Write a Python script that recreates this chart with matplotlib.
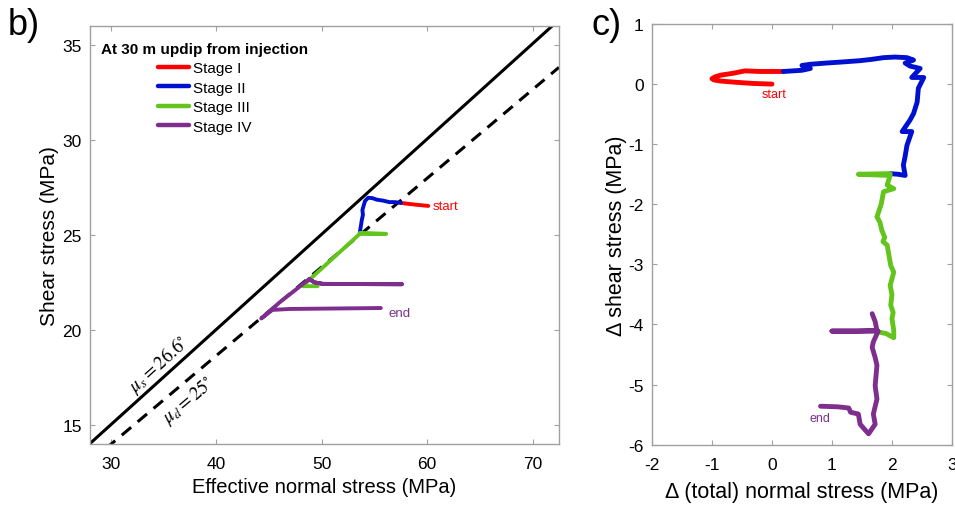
import numpy as np
import matplotlib
matplotlib.use("Agg")
import matplotlib.pyplot as plt

plt.rcParams['font.family'] = ['Liberation Sans', 'DejaVu Sans']
plt.rcParams['mathtext.fontset'] = 'stix'
plt.rcParams['axes.unicode_minus'] = False

RED = '#ff0000'
BLUE = '#0010d0'
GREEN = '#62c41c'
PURPLE = '#7e2f8e'
SPINE = '#a0a0a0'

# ---- panel b: effective normal stress vs shear stress (MPa) ----
mu_s_deg = 26.6
mu_d_deg = 25.0

red_sig = [60.1, 59.0, 58.2, 57.5]
red_tau = [26.52, 26.58, 26.63, 26.68]
blue_sig = [57.5, 56.9, 56.4, 55.8, 55.2, 54.8, 54.4, 54.1, 53.95, 53.85, 53.9, 53.8, 53.7, 53.6]
blue_tau = [26.68, 26.72, 26.72, 26.8, 26.85, 26.93, 26.95, 26.78, 26.5, 26.3, 26.05, 25.8, 25.45, 25.1]
green_sig = [53.6, 56.1, 53.6, 48.8, 48.2, 49.6]
green_tau = [25.1, 25.05, 25.05, 22.63, 22.3, 22.3]
purple_sig = [48.8, 49.3, 50.1, 57.6, 50.1, 49.3, 48.8, 46.0, 44.25, 45.3, 46.9, 55.6]
purple_tau = [22.67, 22.5, 22.42, 22.4, 22.42, 22.5, 22.67, 21.45, 20.6, 21.05, 21.1, 21.15]

# ---- panel c: change in total normal stress vs change in shear stress ----
red_dsig = [0.0, -0.3, -0.6, -0.85, -0.97, -1.0, -0.95, -0.85, -0.65, -0.45, -0.2, 0.0, 0.19]
red_dtau = [0.0, 0.01, 0.03, 0.05, 0.07, 0.09, 0.12, 0.15, 0.18, 0.22, 0.21, 0.21, 0.21]
blue_dsig = [0.19, 0.35, 0.5, 0.64, 0.5, 0.64, 0.9, 1.2, 1.47, 1.65, 1.86, 2.05, 2.25, 2.36,
             2.22, 2.3, 2.47, 2.33, 2.53, 2.44, 2.42, 2.36, 2.3, 2.17, 2.33, 2.25, 2.22,
             2.19, 2.22, 2.1, 1.97]
blue_dtau = [0.21, 0.22, 0.23, 0.26, 0.31, 0.33, 0.35, 0.37, 0.39, 0.41, 0.44, 0.45, 0.44, 0.40,
             0.35, 0.30, 0.26, 0.11, 0.11, -0.07, -0.3, -0.49, -0.6, -0.79, -0.79, -1.02, -1.2,
             -1.35, -1.52, -1.5, -1.49]
green_dsig = [1.97, 1.44, 1.97, 1.92, 2.03, 1.86, 1.82, 1.75, 1.8, 1.83, 1.88, 1.85, 1.92,
              1.95, 1.98, 2.03, 1.97, 2.0, 1.98, 2.02, 2.0, 2.03, 2.03, 1.9, 1.75]
green_dtau = [-1.49, -1.50, -1.52, -1.68, -1.74, -1.79, -2.0, -2.21, -2.3, -2.43, -2.55, -2.62,
              -2.68, -2.85, -3.02, -3.13, -3.35, -3.5, -3.68, -3.8, -3.9, -4.1, -4.22, -4.15, -4.12]
purple_dsig = [1.67, 1.72, 1.75, 1.4, 1.0, 1.4, 1.77, 1.69, 1.67, 1.72, 1.75, 1.72, 1.75,
               1.69, 1.72, 1.61, 1.47, 1.44, 1.31, 1.28, 1.1, 0.81]
purple_dtau = [-3.82, -3.95, -4.1, -4.11, -4.11, -4.11, -4.11, -4.29, -4.38, -4.55, -4.68,
               -5.02, -5.24, -5.49, -5.66, -5.82, -5.66, -5.49, -5.46, -5.39, -5.37, -5.36]

stage_labels = ['Stage I', 'Stage II', 'Stage III', 'Stage IV']

fig = plt.figure(figsize=(9.55, 5.06), dpi=100)
ax1 = fig.add_axes([0.0942, 0.1206, 0.4911, 0.8267])
ax2 = fig.add_axes([0.6827, 0.1192, 0.3141, 0.8314])


def style_axes(ax):
    for sp in ax.spines.values():
        sp.set_color(SPINE)
        sp.set_linewidth(1.0)
    ax.tick_params(direction='in', length=3.5, width=0.8, color=SPINE,
                   labelsize=12.5, labelcolor='black', top=True, right=True)
    ax.tick_params(axis='x', pad=9)
    ax.tick_params(axis='y', pad=6)


# panel b
sig_line = np.array([28, 72.5])
ax1.plot(sig_line, np.tan(np.radians(mu_s_deg)) * sig_line, color='black', lw=2.2)
ax1.plot(sig_line, np.tan(np.radians(mu_d_deg)) * sig_line, color='black', lw=2.2,
         dashes=(4, 2.8))
lw = 2.8
ax1.plot(red_sig, red_tau, color=RED, lw=lw, solid_capstyle='round', label=stage_labels[0])
ax1.plot(blue_sig, blue_tau, color=BLUE, lw=lw, solid_capstyle='round', label=stage_labels[1])
ax1.plot(green_sig, green_tau, color=GREEN, lw=lw, solid_capstyle='round', label=stage_labels[2])
ax1.plot(purple_sig, purple_tau, color=PURPLE, lw=lw, solid_capstyle='round', label=stage_labels[3])

ax1.text(red_sig[0] + 0.4, red_tau[0], 'start', color=RED, fontsize=9.5, va='center', ha='left')
ax1.text(purple_sig[-1] + 0.7, purple_tau[-1] - 0.25, 'end', color=PURPLE, fontsize=9.5,
         va='center', ha='left')
ax1.text(34.5, 18.2, r'$\mu_s = 26.6^{\circ}$', fontsize=13.5, ha='center', va='center',
         rotation=mu_s_deg, transform_rotates_text=True, rotation_mode='anchor')
ax1.text(37.3, 16.3, r'$\mu_d = 25^{\circ}$', fontsize=13.5, ha='center', va='center',
         rotation=mu_d_deg, transform_rotates_text=True, rotation_mode='anchor')

ax1.set_xlim(28, 72.5)
ax1.set_ylim(14, 36)
ax1.set_xticks([30, 40, 50, 60, 70])
ax1.set_yticks([15, 20, 25, 30, 35])
ax1.set_xlabel('Effective normal stress (MPa)', fontsize=14.5, labelpad=4)
ax1.set_ylabel('Shear stress (MPa)', fontsize=15, labelpad=2)
style_axes(ax1)

leg = ax1.legend(title='At 30 m updip from injection', loc='upper center',
                 bbox_to_anchor=(0.245, 0.98), frameon=False, fontsize=11,
                 title_fontproperties={'weight': 'bold', 'size': 11},
                 alignment='center', handlelength=2.0, handletextpad=0.25,
                 labelspacing=0.36, borderpad=0.0)
for h in leg.legend_handles:
    h.set_linewidth(3.2)

# panel c
ax2.plot(red_dsig, red_dtau, color=RED, lw=3.5, solid_capstyle='round')
ax2.plot(blue_dsig, blue_dtau, color=BLUE, lw=3.5, solid_capstyle='round')
ax2.plot(green_dsig, green_dtau, color=GREEN, lw=3.5, solid_capstyle='round')
ax2.plot(purple_dsig, purple_dtau, color=PURPLE, lw=3.5, solid_capstyle='round')
ax2.text(0.04, -0.16, 'start', color=RED, fontsize=9, ha='center', va='center')
ax2.text(0.8, -5.55, 'end', color=PURPLE, fontsize=9, ha='center', va='center')

ax2.set_xlim(-2, 3)
ax2.set_ylim(-6, 1)
ax2.set_xticks(range(-2, 4))
ax2.set_yticks(range(-6, 2))
ax2.set_xlabel('\u0394 (total) normal stress (MPa)', fontsize=15.5, labelpad=6)
ax2.set_ylabel('\u0394 shear stress (MPa)', fontsize=15.5, labelpad=1)
style_axes(ax2)

fig.text(0.008, 0.985, 'b)', fontsize=26, ha='left', va='top')
fig.text(0.619, 0.985, 'c)', fontsize=26, ha='left', va='top')

fig.savefig('out.png', dpi=100)
